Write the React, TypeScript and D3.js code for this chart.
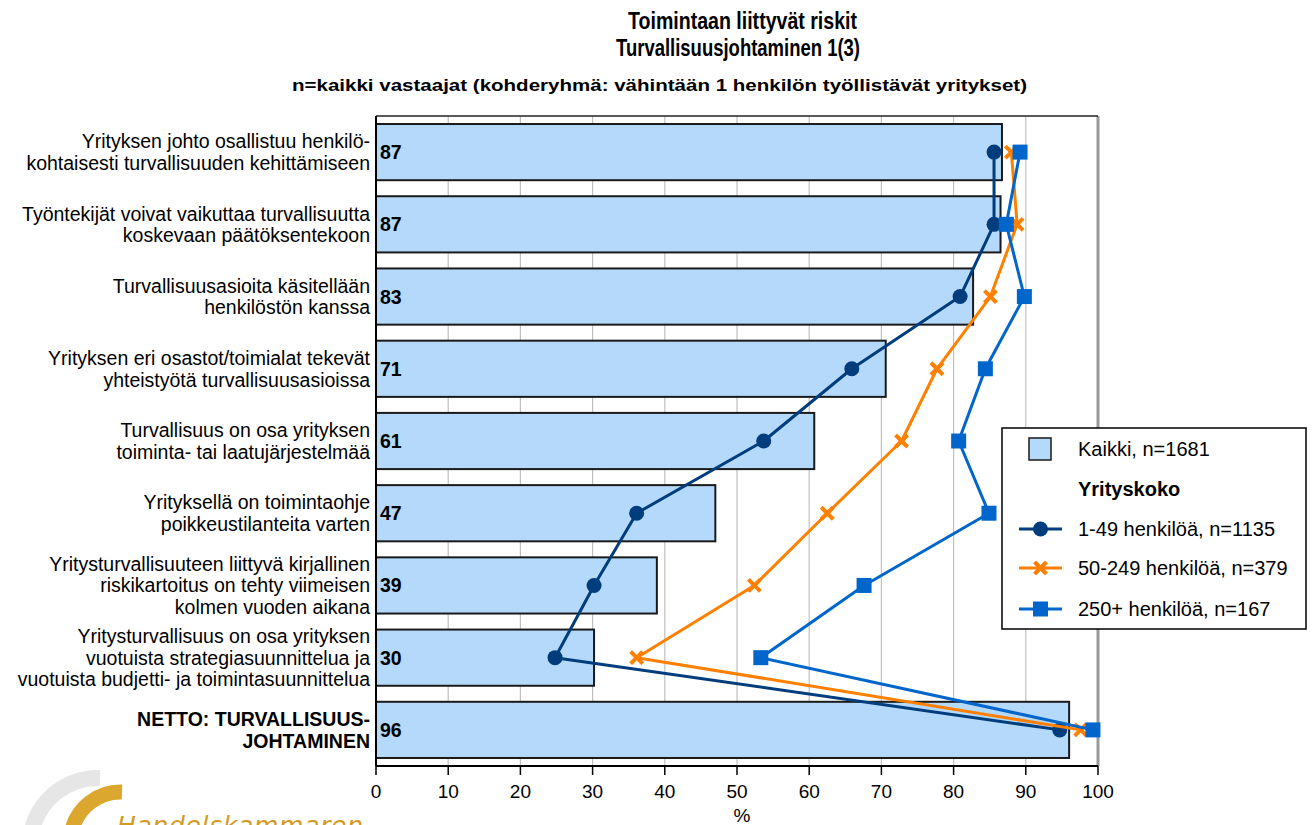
import React from "react";
import * as d3 from "d3";

const categories: string[][] = [
  ["Yrityksen johto osallistuu henkilö-", "kohtaisesti turvallisuuden kehittämiseen"],
  ["Työntekijät voivat vaikuttaa turvallisuutta", "koskevaan päätöksentekoon"],
  ["Turvallisuusasioita käsitellään", "henkilöstön kanssa"],
  ["Yrityksen eri osastot/toimialat tekevät", "yhteistyötä turvallisuusasioissa"],
  ["Turvallisuus on osa yrityksen", "toiminta- tai laatujärjestelmää"],
  ["Yrityksellä on toimintaohje", "poikkeustilanteita varten"],
  ["Yritysturvallisuuteen liittyvä kirjallinen", "riskikartoitus on tehty viimeisen", "kolmen vuoden aikana"],
  ["Yritysturvallisuus on osa yrityksen", "vuotuista strategiasuunnittelua ja", "vuotuista budjetti- ja toimintasuunnittelua"],
  ["NETTO: TURVALLISUUS-", "JOHTAMINEN"],
];
const boldCategory = [false, false, false, false, false, false, false, false, true];

const kaikki = [86.7, 86.5, 82.7, 70.6, 60.7, 47.0, 38.9, 30.2, 96.0];
const small = [85.6, 85.6, 80.9, 65.9, 53.7, 36.1, 30.2, 24.8, 94.7];
const medium = [88.0, 88.8, 85.1, 77.7, 72.8, 62.5, 52.4, 36.1, 97.6];
const large = [89.2, 87.3, 89.8, 84.4, 80.7, 84.9, 67.6, 53.3, 99.3];

const xTicks = [0, 10, 20, 30, 40, 50, 60, 70, 80, 90, 100];

const legendLabels = {
  kaikki: "Kaikki, n=1681",
  group: "Yrityskoko",
  small: "1-49 henkilöä, n=1135",
  medium: "50-249 henkilöä, n=379",
  large: "250+ henkilöä, n=167",
};

const titleLines = ["Toimintaan liittyvät riskit", "Turvallisuusjohtaminen 1(3)"];
const subtitle = "n=kaikki vastaajat (kohderyhmä: vähintään 1 henkilön työllistävät yritykset)";
const axisTitle = "%";
const logoText = "Handelskammaren";

const C_BAR = "#b4d9fb";
const C_SMALL = "#003d7d";
const C_MED = "#ff8000";
const C_LARGE = "#0066cc";
const FONT = "Liberation Sans, Arial, sans-serif";

const W = 1312;
const H = 825;

function Marker({ kind, x, y }: { kind: string; x: number; y: number }) {
  if (kind === "circle") return <circle cx={x} cy={y} r={7.5} fill={C_SMALL} />;
  if (kind === "x") {
    const s = 6;
    return (
      <g stroke={C_MED} strokeWidth={4} strokeLinecap="butt">
        <line x1={x - s} y1={y - s} x2={x + s} y2={y + s} />
        <line x1={x - s} y1={y + s} x2={x + s} y2={y - s} />
      </g>
    );
  }
  return <rect x={x - 7.5} y={y - 7.5} width={15} height={15} fill={C_LARGE} />;
}

export default function App() {
  const x = d3.scaleLinear().domain([0, 100]).range([376, 1098]);
  const y = d3
    .scaleBand<number>()
    .domain(categories.map((_, i) => i))
    .range([116, 766])
    .paddingInner(0.222)
    .paddingOuter(0.111);
  const bw = y.bandwidth();
  const cy = (i: number) => (y(i) as number) + bw / 2;
  const line = d3
    .line<number>()
    .x((d) => x(d))
    .y((_, i) => cy(i));

  const series = [
    { data: small, color: C_SMALL, kind: "circle" },
    { data: medium, color: C_MED, kind: "x" },
    { data: large, color: C_LARGE, kind: "square" },
  ];

  const lx = 1002;
  const ly = 428;
  const rows = [449, 489, 529, 568, 609];

  return (
    <svg width={W} height={H} style={{ position: "absolute", left: 0, top: 0, background: "#fff" }} fontFamily={FONT}>
      <rect x={0} y={0} width={W} height={H} fill="#fff" />
      {/* titles */}
      <text x={742.5} y={29} textAnchor="middle" fontSize={23} fontWeight="bold" textLength={229} lengthAdjust="spacingAndGlyphs">
        {titleLines[0]}
      </text>
      <text x={738} y={56} textAnchor="middle" fontSize={23} fontWeight="bold" textLength={244} lengthAdjust="spacingAndGlyphs">
        {titleLines[1]}
      </text>
      <text x={659.5} y={91} textAnchor="middle" fontSize={16.5} fontWeight="bold" textLength={735} lengthAdjust="spacingAndGlyphs">
        {subtitle}
      </text>

      {/* gridlines */}
      {xTicks.slice(1, -1).map((t) => (
        <line key={t} x1={x(t)} x2={x(t)} y1={116} y2={766} stroke="#c0c0c0" strokeWidth={1.2} />
      ))}
      <line x1={x(100)} x2={x(100)} y1={116} y2={766} stroke="#999" strokeWidth={3} />
      <line x1={x(0)} x2={x(100)} y1={116} y2={116} stroke="#222" strokeWidth={1.5} />

      {/* bars */}
      {kaikki.map((v, i) => (
        <rect key={i} x={x(0)} y={y(i)} width={x(v) - x(0)} height={bw} fill={C_BAR} stroke="#1a1a1a" strokeWidth={2} />
      ))}
      {kaikki.map((v, i) => (
        <text key={i} x={380} y={cy(i)} dy="0.36em" fontSize={19.5} fontWeight="bold">
          {Math.round(v)}
        </text>
      ))}

      {/* axes */}
      <line x1={x(0)} x2={x(0)} y1={116} y2={766} stroke="#000" strokeWidth={2} />
      <line x1={x(0)} x2={x(100)} y1={766} y2={766} stroke="#000" strokeWidth={2} />
      {xTicks.map((t) => (
        <g key={t}>
          <line x1={x(t)} x2={x(t)} y1={766} y2={775} stroke="#000" strokeWidth={1.5} />
          <text x={x(t)} y={798} textAnchor="middle" fontSize={19}>
            {t}
          </text>
        </g>
      ))}
      <text x={742} y={822} textAnchor="middle" fontSize={19}>
        {axisTitle}
      </text>

      {/* category labels */}
      {categories.map((lines, i) => {
        const lh = 21.5;
        const start = cy(i) - ((lines.length - 1) * lh) / 2;
        return (
          <text key={i} textAnchor="end" fontSize={19.5} fontWeight={boldCategory[i] ? "bold" : "normal"}>
            {lines.map((l, j) => (
              <tspan key={j} x={370} y={start + j * lh} dy="0.36em">
                {l}
              </tspan>
            ))}
          </text>
        );
      })}

      {/* lines */}
      {series.map((s, si) => (
        <g key={si}>
          <path d={line(s.data) || ""} fill="none" stroke={s.color} strokeWidth={3} strokeLinejoin="round" />
          {s.data.map((v, i) => (
            <Marker key={i} kind={s.kind} x={x(v)} y={cy(i)} />
          ))}
        </g>
      ))}

      {/* legend */}
      <rect x={lx} y={ly} width={304} height={201} fill="#fff" stroke="#000" strokeWidth={1.5} />
      <rect x={1029} y={438} width={22} height={22} fill={C_BAR} stroke="#1a1a1a" strokeWidth={1.5} />
      <text x={1078} y={rows[0]} dy="0.36em" fontSize={20}>{legendLabels.kaikki}</text>
      <text x={1078} y={rows[1]} dy="0.36em" fontSize={20} fontWeight="bold">{legendLabels.group}</text>
      {[
        { s: series[0], label: legendLabels.small, yy: rows[2] },
        { s: series[1], label: legendLabels.medium, yy: rows[3] },
        { s: series[2], label: legendLabels.large, yy: rows[4] },
      ].map((r, k) => (
        <g key={k}>
          <line x1={1019} x2={1062} y1={r.yy} y2={r.yy} stroke={r.s.color} strokeWidth={3} />
          <Marker kind={r.s.kind} x={1040.5} y={r.yy} />
          <text x={1078} y={r.yy} dy="0.36em" fontSize={20}>{r.label}</text>
        </g>
      ))}

      {/* logo */}
      <path d="M 32 830 A 68 68 0 0 1 100 778" fill="none" stroke="#e6e6e6" strokeWidth={16} />
      <path d="M 72 830 A 50 50 0 0 1 122 792" fill="none" stroke="#dca72e" strokeWidth={15} />
      <text x={117} y={834} fontSize={25} fontStyle="italic" fill="#d49a22" textLength={246} lengthAdjust="spacing" fontFamily="DejaVu Sans, sans-serif">
        {logoText}
      </text>
    </svg>
  );
}
